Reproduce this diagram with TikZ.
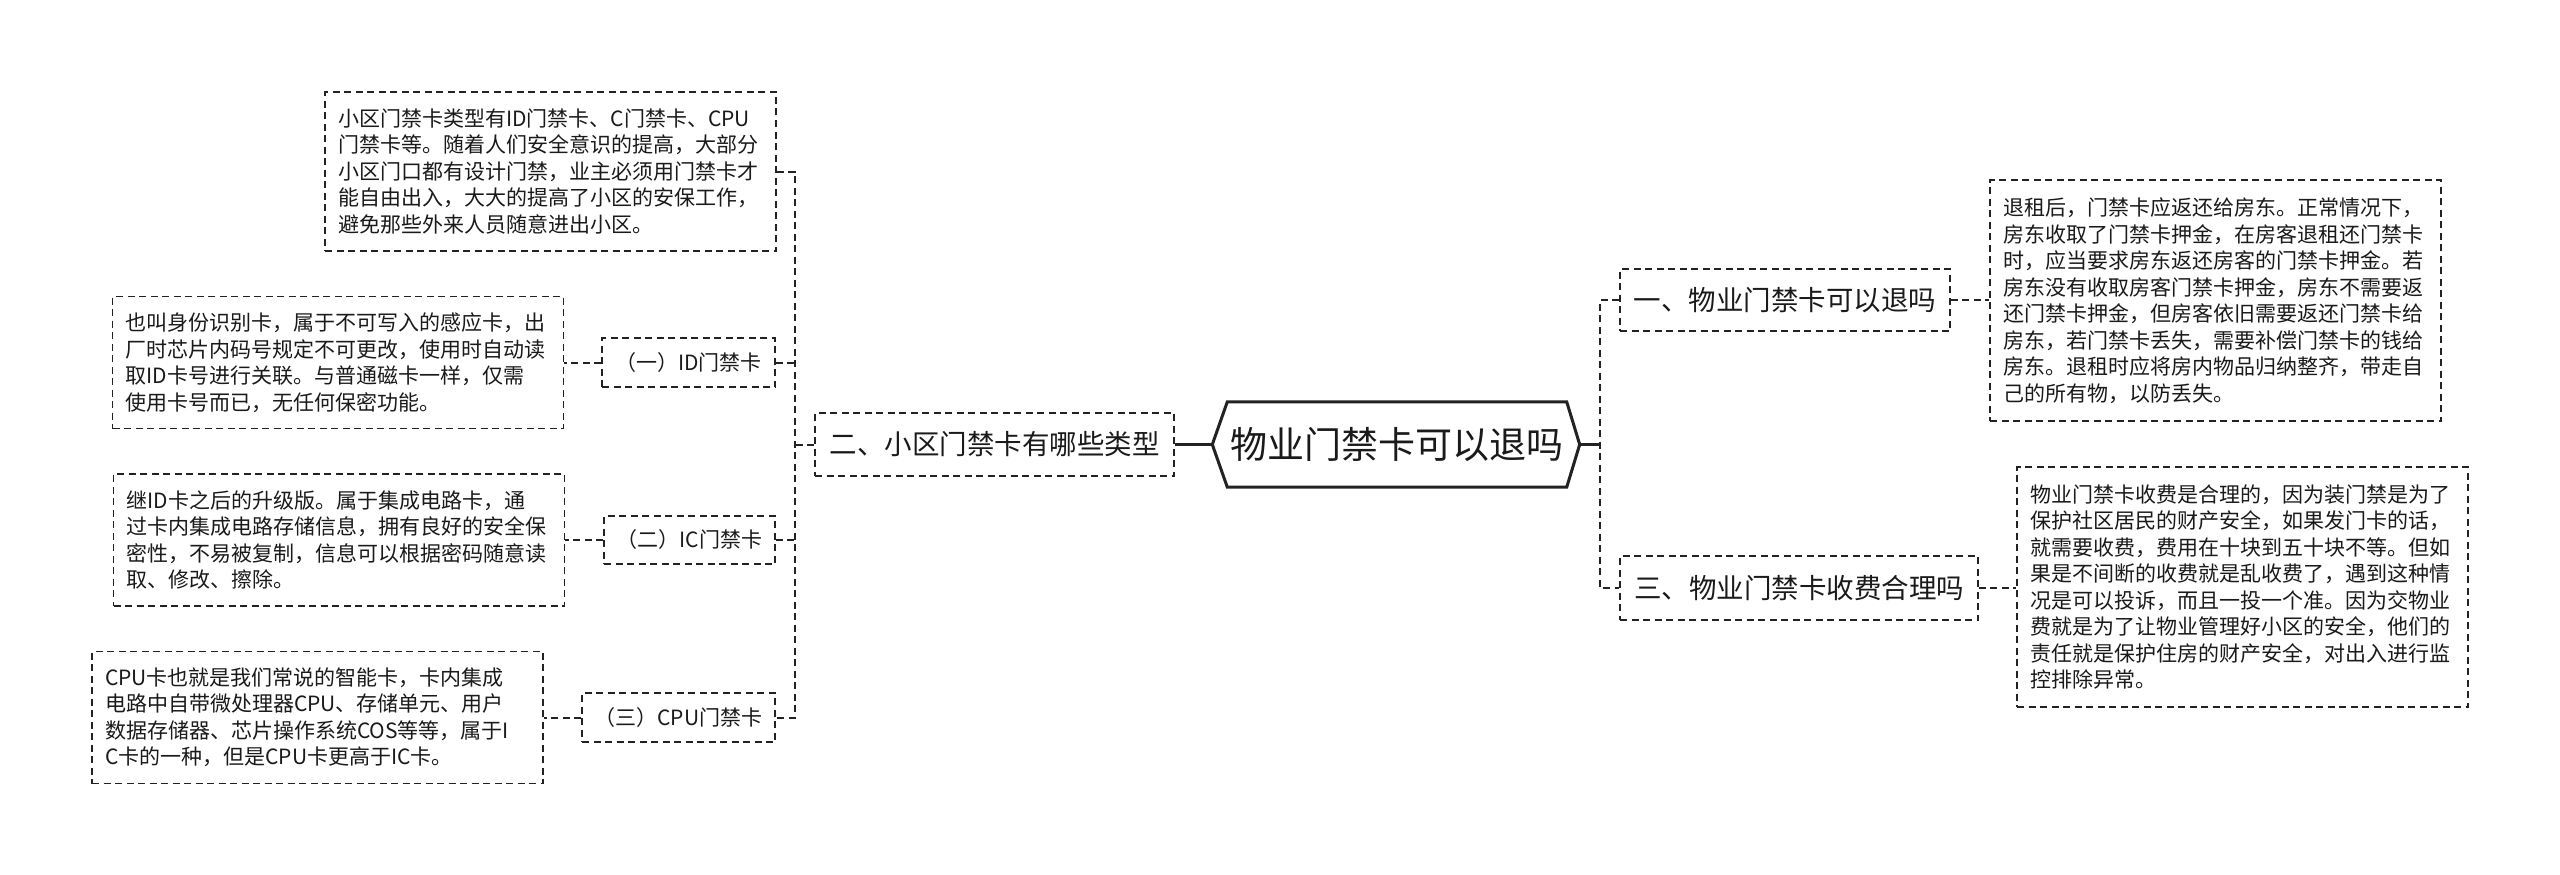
\documentclass[tikz,border=0pt]{standalone}
\usepackage{fontspec}
\setmainfont{Noto Sans CJK SC}
\usetikzlibrary{calc}
\definecolor{linec}{HTML}{222222}
\definecolor{txtc}{HTML}{1A1A1A}
\begin{document}
\begin{tikzpicture}[x=1pt,y=-1pt,
  dsh/.style={dash pattern=on 7pt off 4.5pt},
  txtbox/.style={draw=linec, line width=1.6pt, dsh, inner sep=0pt, text width=425pt, align=left, text=txtc, font=\fontsize{21}{26.5}\selectfont},
  lblbox/.style={draw=linec, line width=1.6pt, dsh, inner sep=0pt, text=txtc, font=\fontsize{21}{25}\selectfont},
  topbox/.style={draw=linec, line width=1.6pt, dsh, inner sep=0pt, text=txtc, font=\fontsize{27.5}{32}\selectfont},
  conn/.style={draw=linec, line width=2pt, dsh},
  connR/.style={draw=linec, line width=2.6pt, dsh},
  cconn/.style={draw=linec, line width=3pt},
  hexline/.style={draw=linec, line width=3pt, line join=miter}
]
\fill[white] (0,0) rectangle (2560,875);
\useasboundingbox (0,0) rectangle (2560,875);

% central node
\node[inner sep=0pt, minimum width=339pt, minimum height=85pt, text=txtc, font=\fontsize{37}{40}\selectfont] (c) at (1397,444.5) {物业门禁卡可以退吗};
\coordinate (cW) at ($(c.west)+(-15,0)$);
\coordinate (cE) at ($(c.east)+(13,0)$);
\draw[hexline] (c.north west) -- (c.north east) -- (cE) -- (c.south east) -- (c.south west) -- (cW) -- cycle;

% left branch
\node[topbox, minimum width=359pt, minimum height=63pt] (er) at (994.5,444.5) {二、小区门禁卡有哪些类型};
\node[txtbox, minimum width=451pt, minimum height=159pt] (tl) at (550.5,171.5) {小区门禁卡类型有ID门禁卡、C门禁卡、CPU\\门禁卡等。随着人们安全意识的提高，大部分\\小区门口都有设计门禁，业主必须用门禁卡才\\能自由出入，大大的提高了小区的安保工作，\\避免那些外来人员随意进出小区。};
\node[lblbox, minimum width=173pt, minimum height=49pt] (id) at (688.5,362.5) {（一）ID门禁卡};
\node[lblbox, minimum width=171pt, minimum height=48pt] (ic) at (689.5,540) {（二）IC门禁卡};
\node[lblbox, minimum width=193pt, minimum height=49pt] (cpu) at (678.5,717.5) {（三）CPU门禁卡};
\node[txtbox, minimum width=451pt, minimum height=132pt] (idt) at (338,362.5) {也叫身份识别卡，属于不可写入的感应卡，出\\厂时芯片内码号规定不可更改，使用时自动读\\取ID卡号进行关联。与普通磁卡一样，仅需\\使用卡号而已，无任何保密功能。};
\node[txtbox, minimum width=451pt, minimum height=132pt] (ict) at (339,540) {继ID卡之后的升级版。属于集成电路卡，通\\过卡内集成电路存储信息，拥有良好的安全保\\密性，不易被复制，信息可以根据密码随意读\\取、修改、擦除。};
\node[txtbox, minimum width=451pt, minimum height=132pt] (cput) at (317.5,717.5) {CPU卡也就是我们常说的智能卡，卡内集成\\电路中自带微处理器CPU、存储单元、用户\\数据存储器、芯片操作系统COS等等，属于I\\C卡的一种，但是CPU卡更高于IC卡。};

% right branch
\node[topbox, minimum width=330pt, minimum height=62pt] (one) at (1785,300) {一、物业门禁卡可以退吗};
\node[topbox, minimum width=358pt, minimum height=64pt] (three) at (1799,588) {三、物业门禁卡收费合理吗};
\node[txtbox, minimum width=451pt, minimum height=241pt] (r1) at (2215.5,300.5) {退租后，门禁卡应返还给房东。正常情况下，\\房东收取了门禁卡押金，在房客退租还门禁卡\\时，应当要求房东返还房客的门禁卡押金。若\\房东没有收取房客门禁卡押金，房东不需要返\\还门禁卡押金，但房客依旧需要返还门禁卡给\\房东，若门禁卡丢失，需要补偿门禁卡的钱给\\房东。退租时应将房内物品归纳整齐，带走自\\己的所有物，以防丢失。};
\node[txtbox, minimum width=451pt, minimum height=240pt] (r2) at (2242.5,587) {物业门禁卡收费是合理的，因为装门禁是为了\\保护社区居民的财产安全，如果发门卡的话，\\就需要收费，费用在十块到五十块不等。但如\\果是不间断的收费就是乱收费了，遇到这种情\\况是可以投诉，而且一投一个准。因为交物业\\费就是为了让物业管理好小区的安全，他们的\\责任就是保护住房的财产安全，对出入进行监\\控排除异常。};

% connectors left
\coordinate (sL) at (795,444.5);
\draw[cconn] (er.east) -- (cW);
\draw[conn] (er.west) -- (sL);
\draw[conn] (tl.east) -| (sL) |- (cpu.east);
\draw[conn] (id.east) -- (id.east -| sL);
\draw[conn] (ic.east) -- (ic.east -| sL);
\draw[conn] (id.west) -- (idt.east);
\draw[conn] (ic.west) -- (ict.east);
\draw[conn] (cpu.west) -- (cput.east);

% connectors right
\coordinate (sR) at (1600,444.5);
\draw[cconn] (cE) -- (sR);
\draw[connR] (one.west) -| (sR) |- (three.west);
\draw[conn] (one.east) -- (r1.west |- one.east);
\draw[conn] (three.east) -- (r2.west |- three.east);
\end{tikzpicture}
\end{document}
